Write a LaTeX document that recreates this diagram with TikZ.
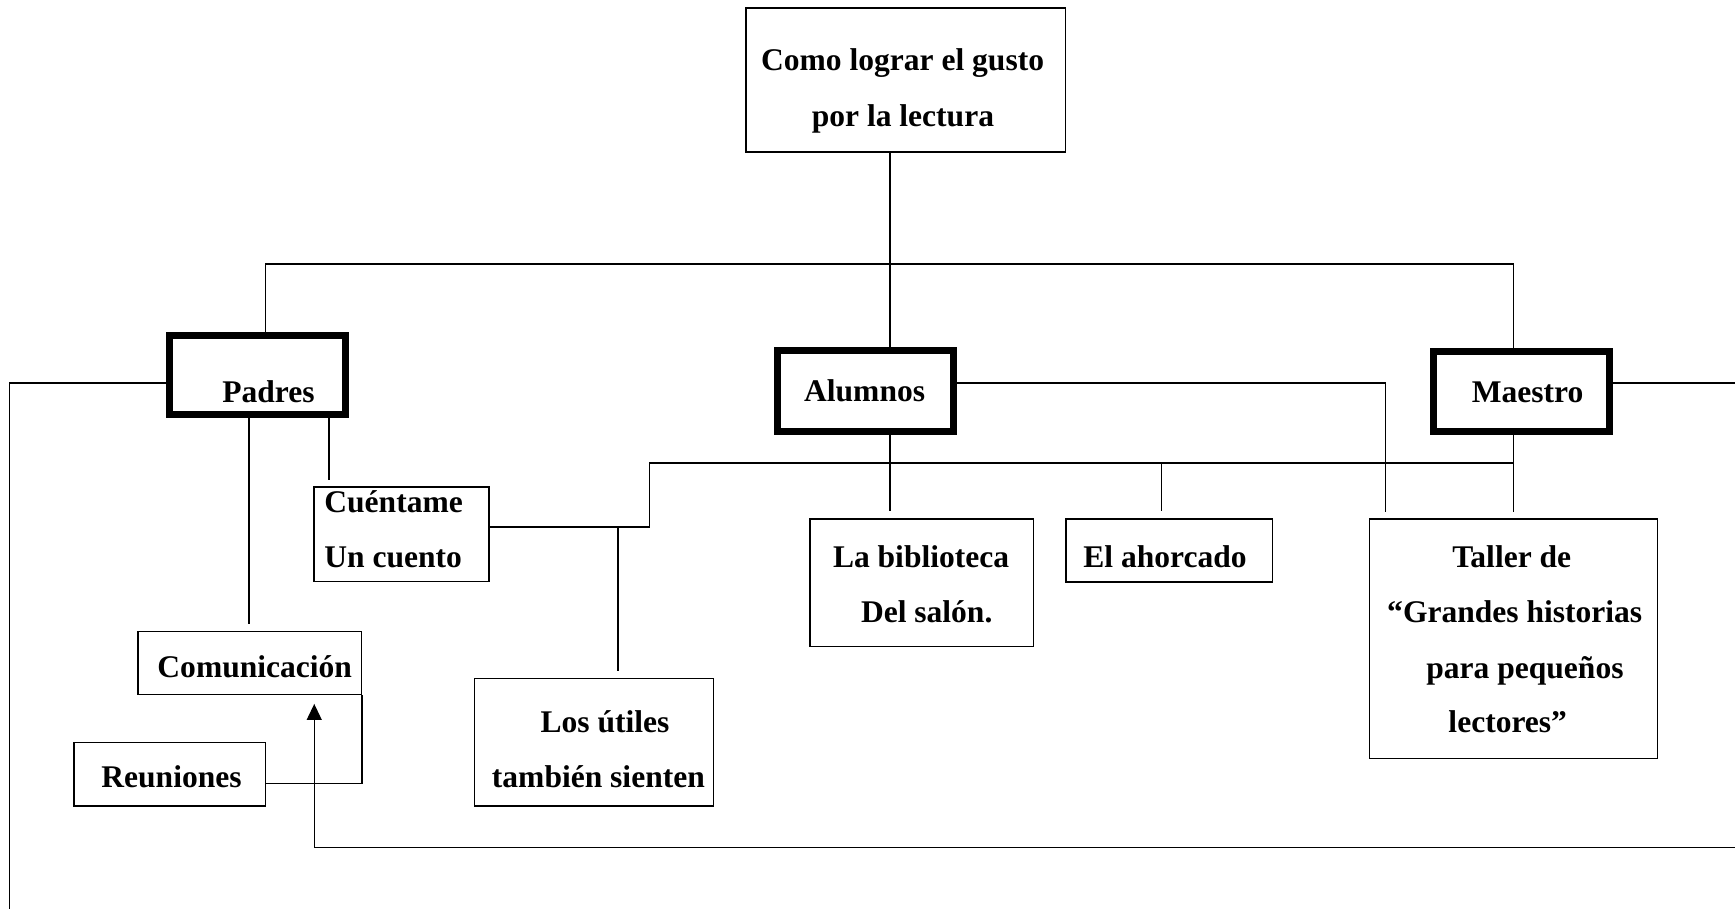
\documentclass[tikz,border=0pt]{standalone}
\usepackage{fontspec}
\setmainfont{Liberation Serif}
\usetikzlibrary{arrows.meta,calc}
\begin{document}
\begin{tikzpicture}[x=1pt,y=-1pt,
  box/.style={draw, line width=1.3pt, inner sep=0pt},
  thickbox/.style={draw, line width=6.3pt, inner sep=0pt},
  lbl/.style={inner sep=0pt, anchor=base, font=\fontsize{28.5}{34}\selectfont\bfseries},
  lblw/.style={lbl, anchor=base west},
  conn/.style={line width=1.3pt},
  gap/.style={shorten >=6pt},
  tip/.style={-{Triangle[length=14.5pt,width=13.5pt]}}
]
\useasboundingbox (0,0) rectangle (1568,821.5);

% boxes
\node[box, minimum width=289pt, minimum height=130pt] (top) at (818.5,72.2) {};
\node[thickbox, minimum width=159pt, minimum height=71.7pt] (padres) at (232.7,339) {};
\node[thickbox, minimum width=159.3pt, minimum height=73pt] (alum) at (782.2,353.5) {};
\node[thickbox, minimum width=159.5pt, minimum height=72pt] (maestro) at (1375.2,354) {};
\node[box, minimum width=158.2pt, minimum height=85.4pt] (cuent) at (362.9,483) {};
\node[box, minimum width=201.9pt, minimum height=57pt] (comu) at (225.6,599) {};
\node[box, minimum width=173pt, minimum height=57.6pt] (reun) at (153.3,699.7) {};
\node[box, minimum width=216.1pt, minimum height=115.2pt] (utiles) at (536.7,671) {};
\node[box, minimum width=202.1pt, minimum height=115.3pt] (bibl) at (833.1,526.7) {};
\node[box, minimum width=187pt, minimum height=56.9pt] (ahor) at (1056.7,497.5) {};
\node[box, minimum width=260.2pt, minimum height=216.3pt] (taller) at (1368,577.2) {};

% texts
\node[lbl] (t1) at (815.7,64) {Como lograr el gusto};
\node[lbl] (t2) at (816,114) {por la lectura};
\node[lbl] (tpad) at (242.7,364) {Padres};
\node[lbl] (talu) at (781.4,363) {Alumnos};
\node[lbl] (tmae) at (1380.6,364) {Maestro};
\node[lblw] (tcu1) at (293,463) {Cuéntame};
\node[lblw] (tcu2) at (293,512.5) {Un cuento};
\node[lbl] (tcom) at (230.2,612) {Comunicación};
\node[lbl] (treu) at (155,711.5) {Reuniones};
\node[lbl] (tut1) at (546.8,662.4) {Los útiles};
\node[lbl] (tut2) at (540.8,711.5) {también sienten};
\node[lbl] (tbi1) at (832.4,512.7) {La biblioteca};
\node[lbl] (tbi2) at (837.5,562.7) {Del salón.};
\node[lbl] (tahor) at (1052.9,512.7) {El ahorcado};
\node[lbl] (tta1) at (1366.2,512.6) {Taller de};
\node[lbl] (tta2) at (1368.9,562.4) {“Grandes historias};
\node[lbl] (tta3) at (1378.2,613) {para pequeños};
\node[lbl] (tta4) at (1362.6,662.4) {lectores”};

% junction coordinates
\coordinate (jTop) at (804.2,238.6);
\coordinate (busL) at (240,238.6);
\coordinate (busR) at (1368,238.6);
\coordinate (pw) at (8.7,346);
\coordinate (pend) at (8.7,835);
\coordinate (xPC) at (225.2,0);
\coordinate (xPK) at (297.4,0);
\coordinate (c1) at (587,476.4);
\coordinate (c2) at (587,418.6);
\coordinate (xLU) at (558.5,476.4);
\coordinate (a1) at (1252.3,346);
\coordinate (xEA) at (1049.9,418.6);
\coordinate (m1) at (1585,346);
\coordinate (m2) at (1585,766);
\coordinate (m3) at (284,766);
\coordinate (r1) at (327.2,708.1);

% connectors
\draw[conn] (jTop |- top.south) -- (jTop |- alum.north);
\draw[conn] (busL |- padres.north) -- (busL) -- (busR) -- (busR |- maestro.north);
\draw[conn] (padres.west |- pw) -- (pw) -- (pend);
\draw[conn, gap] (xPC |- padres.south) -- (xPC |- comu.north);
\draw[conn, gap] (xPK |- padres.south) -- (xPK |- cuent.north);
\draw[conn] (cuent.east |- c1) -- (c1) -- (c2) -- (busR |- c2);
\draw[conn, gap] (xLU) -- (xLU |- utiles.north);
\draw[conn, gap] (alum.east |- a1) -- (a1) -- (a1 |- taller.north);
\draw[conn, gap] (busR |- maestro.south) -- (busR |- taller.north);
\draw[conn, shorten >=6.6pt] (jTop |- alum.south) -- (jTop |- bibl.north);
\draw[conn, shorten >=6.6pt] (xEA) -- (xEA |- ahor.north);
\draw[conn, tip, shorten >=8pt] (maestro.east |- m1) -- (m1) -- (m2) -- (m3) -- (m3 |- comu.south);
\draw[conn] (reun.east |- r1) -- (r1) -- (comu.south east);
\end{tikzpicture}
\end{document}
